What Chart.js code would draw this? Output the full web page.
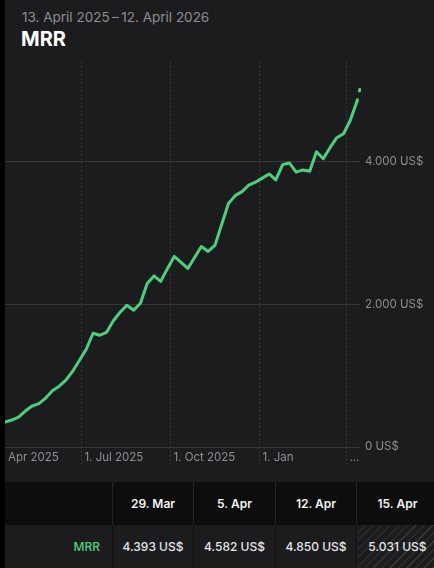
<!DOCTYPE html>
<html>
<head>
<meta charset="utf-8">
<script src="https://cdn.jsdelivr.net/npm/chart.js@4.4.1/dist/chart.umd.min.js"></script>
<style>
  html, body { margin: 0; padding: 0; }
  body {
    width: 434px; height: 568px; background: #1c1c1e;
    position: relative; overflow: hidden;
    font-family: Inter, "Noto Sans", sans-serif;
  }
  .edge { position: absolute; left: 0; top: 0; width: 5px; height: 568px; background: #000; z-index: 5; }
  .range { position: absolute; left: 22px; top: 9px; font-size: 13.5px; color: #8e8e93; white-space: nowrap; }
  .title { position: absolute; left: 21px; top: 27px; font-size: 20px; font-weight: 700; color: #fff; }
  .chart-box { position: absolute; left: 5px; top: 50px; width: 429px; height: 425px; }
  table { position: absolute; left: 5px; top: 482px; width: 429px; border-collapse: collapse; table-layout: fixed; }
  td { height: 43px; padding: 0; text-align: center; font-size: 12px; white-space: nowrap; }
  tr.head td { background: #0d0d0d; color: #f2f2f2; font-weight: 600; border-left: 1px solid #262628; }
  tr.vals td { background: #1c1c1e; color: #e5e5ea; font-weight: 500; border-left: 1px solid #111; }
  tr td:first-child { border-left: none; }
  td.name { text-align: right; padding-right: 12px; color: #4cd07d !important; font-weight: 600; }
  td.partial {
    background: repeating-linear-gradient(135deg, #1c1c1e 0 5px, #3a3a3c 5px 6px) !important;
  }
</style>
</head>
<body>
<div class="edge"></div>
<div class="range">13. April 2025&thinsp;–&thinsp;12. April 2026</div>
<div class="title">MRR</div>
<div class="chart-box"><canvas id="myChart" width="429" height="425"></canvas></div>
<table id="tbl"></table>
<script>
// weekly points (week start), last one is today
const dates = [
    '2025-04-13', '2025-04-20', '2025-04-27', '2025-05-04', '2025-05-11', '2025-05-18', '2025-05-25',
    '2025-06-01', '2025-06-08', '2025-06-15', '2025-06-22', '2025-06-29', '2025-07-06', '2025-07-13',
    '2025-07-20', '2025-07-27', '2025-08-03', '2025-08-10', '2025-08-17', '2025-08-24', '2025-08-31',
    '2025-09-07', '2025-09-14', '2025-09-21', '2025-09-28', '2025-10-05', '2025-10-12', '2025-10-19',
    '2025-10-26', '2025-11-02', '2025-11-09', '2025-11-16', '2025-11-23', '2025-11-30', '2025-12-07',
    '2025-12-14', '2025-12-21', '2025-12-28', '2026-01-04', '2026-01-11', '2026-01-18', '2026-01-25',
    '2026-02-01', '2026-02-08', '2026-02-15', '2026-02-22', '2026-03-01', '2026-03-08', '2026-03-15',
    '2026-03-22', '2026-03-29', '2026-04-05', '2026-04-12', '2026-04-15',
];
const mrr = [
    350, 378, 420, 504, 574, 609, 686, 790, 853, 937, 1063, 1217, 1371, 1595,
    1567, 1609, 1770, 1889, 1987, 1917, 2015, 2294, 2399, 2322, 2504, 2672, 2588,
    2504, 2658, 2812, 2742, 2826, 3120, 3414, 3525, 3581, 3672, 3714, 3770, 3829,
    3745, 3959, 3983, 3854, 3885, 3866, 4141, 4043, 4197, 4337, 4393, 4582, 4850, 5031,
];
const tickDates = ['2025-04-13', '2025-07-01', '2025-10-01', '2026-01-01', '2026-04-01'];
const tickLabels = ['Apr 2025', '1. Jul 2025', '1. Oct 2025', '1. Jan', '...'];
const yTicks = [0, 2000, 4000];
const tableDates = ['29. Mar', '5. Apr', '12. Apr', '15. Apr'];

const start = Date.parse(dates[0]);
const toDay = d => (Date.parse(d) - start) / 86400000;
const fmt = v => String(Math.round(v)).replace(/\B(?=(\d{3})+(?!\d))/g, '.') + ' US$';
const last = dates.length - 1;

const green = '#4cd07d';
const gray = '#8e8e93';
const dash = '#414143';

const config = {
    type: 'line',
    data: {
        datasets: [
            {
                label: 'MRR',
                data: dates.map((d, i) => ({ x: toDay(d), y: mrr[i] })),
                borderColor: green,
                borderWidth: 3,
                borderJoinStyle: 'round',
                borderCapStyle: 'round',
                pointRadius: 0,
                tension: 0,
                clip: false,
                segment: {
                    borderDash: ctx => (ctx.p1DataIndex === last ? [1.5, 9] : undefined),
                },
            },
        ],
    },
    options: {
        responsive: false,
        animation: false,
        layout: { padding: { top: 10, left: 0, right: 0, bottom: 0 } },
        plugins: { legend: { display: false }, tooltip: { enabled: false } },
        scales: {
            x: {
                type: 'linear',
                min: 0,
                max: toDay(dates[last]),
                afterBuildTicks: s => { s.ticks = tickDates.map(d => ({ value: toDay(d) })); },
                afterFit: s => { s.height = 28; },
                border: { display: false, dash: [1.5, 2.5] },
                grid: {
                    color: ctx => (ctx.index === 0 ? 'rgba(0,0,0,0)' : dash),
                    tickColor: ctx => (ctx.index === 0 ? 'rgba(0,0,0,0)' : dash),
                    tickBorderDash: [1.5, 2.5],
                    tickLength: 18,
                },
                ticks: {
                    autoSkip: false,
                    maxRotation: 0,
                    align: 'start',
                    labelOffset: 3,
                    padding: -14,
                    color: gray,
                    font: { family: 'Inter', size: 11.5 },
                    callback: (v, i) => tickLabels[i],
                },
            },
            y: {
                position: 'right',
                min: 0,
                max: 5400,
                afterBuildTicks: s => { s.ticks = yTicks.map(v => ({ value: v })); },
                afterFit: s => { s.width = 74; },
                border: { display: false },
                grid: { color: '#38383a', drawTicks: false },
                ticks: {
                    padding: 5,
                    color: gray,
                    font: { family: 'Inter', size: 11.5 },
                    callback: v => fmt(v),
                },
            },
        },
    },
};

const myChart = new Chart(document.getElementById('myChart'), config);

// table under the chart: last four points
const tbl = document.getElementById('tbl');
const colW = [107, 80, 81, 80, 81];
const head = document.createElement('tr');
head.className = 'head';
const vals = document.createElement('tr');
vals.className = 'vals';
const nameCell = document.createElement('td');
nameCell.className = 'name';
nameCell.textContent = 'MRR';
const blank = document.createElement('td');
blank.style.width = colW[0] + 'px';
head.appendChild(blank);
vals.appendChild(nameCell);
const lastVals = mrr.slice(-tableDates.length);
tableDates.forEach((label, i) => {
    const h = document.createElement('td');
    h.textContent = label;
    h.style.width = colW[i + 1] + 'px';
    head.appendChild(h);
    const c = document.createElement('td');
    c.textContent = fmt(lastVals[i]);
    if (i === tableDates.length - 1) c.className = 'partial';
    vals.appendChild(c);
});
tbl.appendChild(head);
tbl.appendChild(vals);
</script>
</body>
</html>
